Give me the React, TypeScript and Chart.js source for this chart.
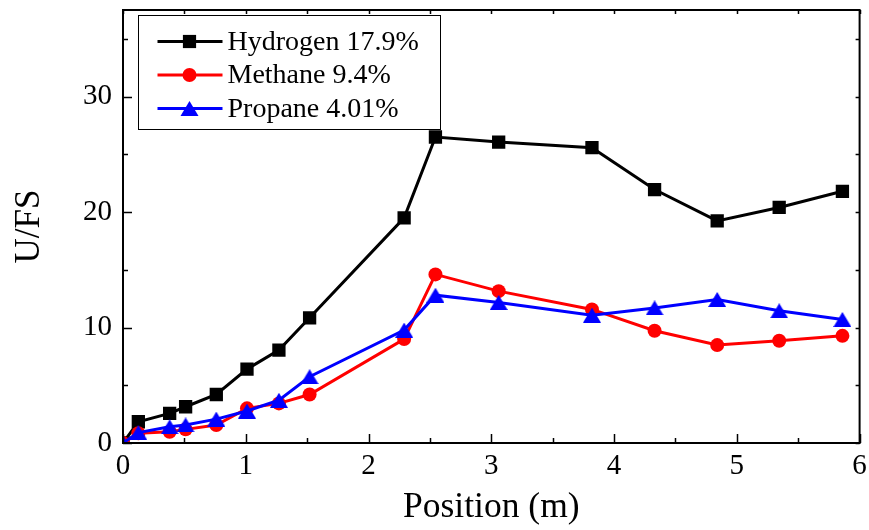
import React, { useEffect, useRef } from "react";
import { Chart, registerables } from "chart.js";

Chart.register(...registerables);

const positions = [0, 0.125, 0.38, 0.51, 0.76, 1.01, 1.27, 1.52, 2.29, 2.545, 3.06, 3.82, 4.33, 4.84, 5.345, 5.86];
const hydrogen = [0, 1.84, 2.57, 3.14, 4.2, 6.4, 8.05, 10.84, 19.5, 26.5, 26.06, 25.58, 21.95, 19.23, 20.4, 21.8];
const methane = [0, 0.84, 0.98, 1.18, 1.56, 3.0, 3.43, 4.2, 9.0, 14.6, 13.15, 11.57, 9.72, 8.48, 8.85, 9.28];
const propane = [0, 0.9, 1.4, 1.56, 2.07, 2.77, 3.7, 5.74, 9.78, 12.8, 12.17, 11.07, 11.7, 12.43, 11.45, 10.7];
const seriesLabels = ["Hydrogen 17.9%", "Methane 9.4%", "Propane 4.01%"];
const seriesColors = ["#000000", "#ff0000", "#0000ff"];
const xMajorTicks = [0, 1, 2, 3, 4, 5, 6];
const xMinorTicks = [0.5, 1.5, 2.5, 3.5, 4.5, 5.5];
const yMajorTicks = [0, 10, 20, 30];
const yMinorTicks = [5, 15, 25, 35];
const xTitle = "Position (m)";
const yTitle = "U/FS";

const SERIF = "'Liberation Serif', 'Times New Roman', serif";

function makeTriangle(color: string) {
  const c = document.createElement("canvas");
  c.width = 18;
  c.height = 15;
  const g = c.getContext("2d")!;
  g.fillStyle = color;
  g.beginPath();
  g.moveTo(9, 0);
  g.lineTo(18, 15);
  g.lineTo(0, 15);
  g.closePath();
  g.fill();
  return c;
}

function drawMarker(ctx: CanvasRenderingContext2D, kind: string, x: number, y: number, color: string) {
  ctx.save();
  ctx.fillStyle = color;
  ctx.beginPath();
  if (kind === "rect") {
    const s = 6.6;
    ctx.rect(x - s, y - s, 2 * s, 2 * s);
  } else if (kind === "circle") {
    ctx.arc(x, y, 7, 0, Math.PI * 2);
  } else {
    ctx.moveTo(x, y - 7.5);
    ctx.lineTo(x + 9, y + 7.5);
    ctx.lineTo(x - 9, y + 7.5);
    ctx.closePath();
  }
  ctx.fill();
  ctx.restore();
}

const legendMarkers = ["rect", "circle", "triangle"];

const framePlugin = {
  id: "frameAndLegend",
  afterDatasetsDraw(chart: any) {
    const ctx: CanvasRenderingContext2D = chart.ctx;
    const { left, right, top, bottom } = chart.chartArea;
    const xs = chart.scales.x;
    const ys = chart.scales.y;
    ctx.save();
    ctx.strokeStyle = "#000";
    ctx.lineWidth = 2;
    ctx.strokeRect(left, top, right - left, bottom - top);

    ctx.lineWidth = 1.5;
    ctx.beginPath();
    const xt = (v: number, lenB: number, lenT: number) => {
      const px = Math.round(xs.getPixelForValue(v)) + 0.5;
      ctx.moveTo(px, bottom);
      ctx.lineTo(px, bottom - lenB);
      ctx.moveTo(px, top);
      ctx.lineTo(px, top + lenT);
    };
    const yt = (v: number, lenL: number, lenR: number) => {
      const py = Math.round(ys.getPixelForValue(v)) + 0.5;
      ctx.moveTo(left, py);
      ctx.lineTo(left + lenL, py);
      ctx.moveTo(right, py);
      ctx.lineTo(right - lenR, py);
    };
    xMajorTicks.forEach((v) => xt(v, 9, 4));
    xMinorTicks.forEach((v) => xt(v, 5, 4));
    yMajorTicks.forEach((v) => yt(v, 9, 4));
    yMinorTicks.forEach((v) => yt(v, 5, 4));
    ctx.stroke();

    // legend
    const bx = left + 15.5;
    const by = top + 5.5;
    const bw = 302;
    const bh = 114;
    ctx.fillStyle = "#fff";
    ctx.fillRect(bx, by, bw, bh);
    ctx.lineWidth = 1;
    ctx.strokeStyle = "#000";
    ctx.strokeRect(bx, by, bw, bh);
    ctx.font = `28px ${SERIF}`;
    ctx.textBaseline = "middle";
    ctx.textAlign = "left";
    seriesLabels.forEach((lab, i) => {
      const cy = by + 26 + i * 33.5;
      ctx.strokeStyle = seriesColors[i];
      ctx.lineWidth = 3;
      ctx.beginPath();
      ctx.moveTo(bx + 19, cy);
      ctx.lineTo(bx + 84, cy);
      ctx.stroke();
      drawMarker(ctx, legendMarkers[i], bx + 51, cy, seriesColors[i]);
      ctx.fillStyle = "#000";
      ctx.fillText(lab, bx + 89, cy + 1);
    });
    ctx.restore();
  },
};

export default function App() {
  const ref = useRef<HTMLCanvasElement | null>(null);

  useEffect(() => {
    if (!ref.current) return;
    const series = [hydrogen, methane, propane];
    const styles: any[] = ["rect", "circle", makeTriangle(seriesColors[2])];
    const radii = [9.4, 7, 9];
    const datasets = series.map((vals, i) => ({
      label: seriesLabels[i],
      data: positions.map((x, j) => ({ x, y: vals[j] })),
      borderColor: seriesColors[i],
      backgroundColor: seriesColors[i],
      pointBackgroundColor: seriesColors[i],
      pointBorderColor: seriesColors[i],
      pointBorderWidth: 0,
      pointStyle: styles[i],
      pointRadius: radii[i],
      borderWidth: 3,
      tension: 0,
      order: 2 - i,
    }));

    const chart = new Chart(ref.current, {
      type: "line",
      data: { datasets },
      plugins: [framePlugin],
      options: {
        animation: false,
        responsive: true,
        maintainAspectRatio: false,
        layout: { padding: { top: 10, right: 9, left: 0, bottom: 0 } },
        plugins: { legend: { display: false }, tooltip: { enabled: false } },
        scales: {
          x: {
            type: "linear",
            min: 0,
            max: 6,
            grid: { display: false, drawTicks: false },
            border: { display: false },
            afterBuildTicks: (s: any) => {
              s.ticks = xMajorTicks.map((v) => ({ value: v }));
            },
            afterFit: (s: any) => {
              s.height = 87;
              s.paddingLeft = 0;
              s.paddingRight = 0;
            },
            ticks: {
              color: "#000",
              font: { family: SERIF, size: 29 },
              padding: 6,
              maxRotation: 0,
            },
            title: {
              display: true,
              text: xTitle,
              color: "#000",
              font: { family: SERIF, size: 35.5 },
              padding: { top: 0, bottom: 1 },
            },
          },
          y: {
            type: "linear",
            min: 0,
            max: 37.5,
            grid: { display: false, drawTicks: false },
            border: { display: false },
            afterBuildTicks: (s: any) => {
              s.ticks = yMajorTicks.map((v) => ({ value: v }));
            },
            afterFit: (s: any) => {
              s.width = 123;
              s.paddingTop = 0;
              s.paddingBottom = 0;
            },
            ticks: {
              color: "#000",
              font: { family: SERIF, size: 29 },
              padding: 11,
            },
            title: {
              display: true,
              text: yTitle,
              color: "#000",
              font: { family: SERIF, size: 35 },
              padding: { top: 9, bottom: 0 },
            },
          },
        },
      },
    } as any);
    return () => chart.destroy();
  }, []);

  return (
    <div style={{ position: "absolute", left: 0, top: 0, width: 869, height: 530, background: "#fff" }}>
      <canvas ref={ref} />
    </div>
  );
}
